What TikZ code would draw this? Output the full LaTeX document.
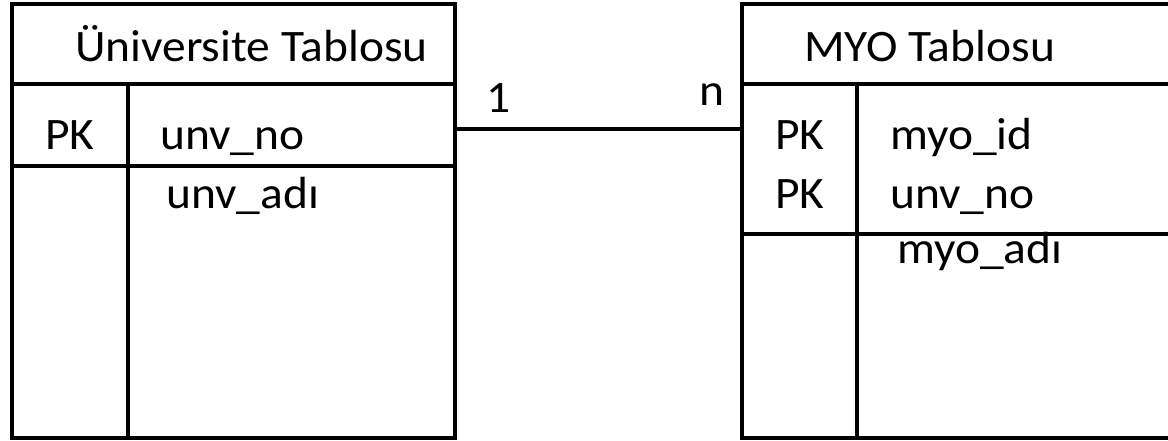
\documentclass[tikz,border=0pt]{standalone}
\usepackage{fontspec}
\setmainfont{Carlito}
\newcommand{\wtxt}[1]{\scalebox{1.055}[1]{#1}}
\begin{document}
\begin{tikzpicture}[x=1pt,y=-1pt,
  frame/.style={line width=4pt,black},
  txt/.style={anchor=base west,inner sep=0pt,font=\fontsize{45}{50}\selectfont}]
\useasboundingbox[fill=white] (0,0) rectangle (1168,441);
% left table
\draw[frame] (12,4) rectangle (455,438);
\draw[frame] (12,84) -- (455,84);
\draw[frame] (128,84) -- (128,438);
\draw[frame] (12,166) -- (455,166);
% right table
\begin{scope}
\clip (0,0) rectangle (1168,441);
\draw[frame] (742,4) rectangle (1190,438);
\draw[frame] (742,84) -- (1190,84);
\draw[frame] (857,84) -- (857,438);
\draw[frame] (742,234) -- (1190,234);
\end{scope}
\coordinate (lt) at (455,129);
\coordinate (rt) at (742,129);
\draw[frame] (lt) -- (rt);
% texts
\node[txt] (t1) at (75,62) {\wtxt{Üniversite Tablosu}};
\node[txt] (pk1) at (45,150) {\wtxt{PK}};
\node[txt] (a1) at (160,150) {\wtxt{unv\_no}};
\node[txt] (a2) at (166,208) {\wtxt{unv\_adı}};
\node[txt] (t2) at (804,62) {\wtxt{MYO Tablosu}};
\node[txt] (pk2) at (775,150) {\wtxt{PK}};
\node[txt] (pk3) at (775,208) {\wtxt{PK}};
\node[txt] (b1) at (890,150) {\wtxt{myo\_id}};
\node[txt] (b2) at (890,208) {\wtxt{unv\_no}};
\node[txt] (b3) at (897,263) {\wtxt{myo\_adı}};
\node[txt] (one) at (486,113) {\wtxt{1}};
\node[txt] (many) at (699,106) {\wtxt{n}};
\end{tikzpicture}
\end{document}
